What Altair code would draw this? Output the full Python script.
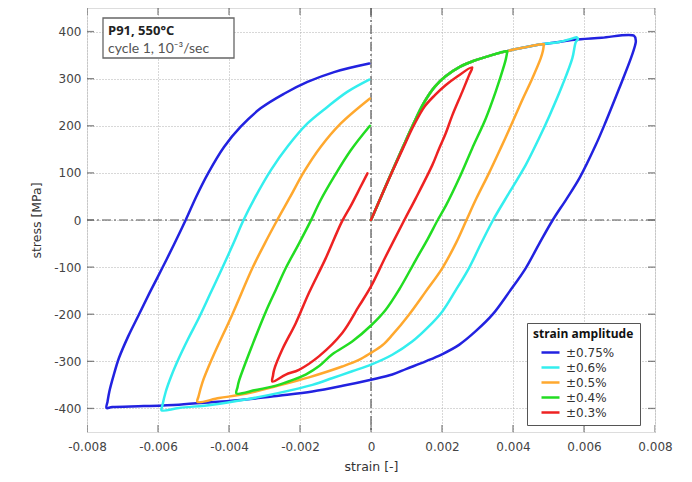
import altair as alt
import pandas as pd

# ---------------- data ----------------
series_names = ["±0.75%", "±0.6%", "±0.5%", "±0.4%", "±0.3%"]
series_colors = ["#2222e0", "#33eeee", "#ffa82e", "#22dd22", "#ee2222"]

# common first-loading branch
load_strain = [0, 0.0003, 0.0006, 0.0009, 0.0012, 0.0015, 0.0018, 0.0021, 0.0025, 0.0029, 0.0034, 0.0038, 0.0043, 0.0048, 0.0053, 0.0058, 0.0065, 0.00741]
load_stress = [0, 52, 104, 155, 205, 250, 283, 305, 325, 338, 350, 358, 366, 373, 378, 383, 387, 391]

blue_strain = [0.00746, 0.00744, 0.00732, 0.00699, 0.00661, 0.00633, 0.00588, 0.00551, 0.00512, 0.00474, 0.00436, 0.0039, 0.00342, 0.00295, 0.00248, 0.002, 0.00154, 0.001, 0.0006, 0,
               -0.0008, -0.00165, -0.0026, -0.00353, -0.0045, -0.00541, -0.0064, -0.00729, -0.00745,
               -0.00742, -0.00737, -0.00725, -0.0071, -0.00684, -0.00654, -0.00622, -0.00588, -0.00555, -0.00522, -0.00492, -0.00459, -0.00414, -0.00367, -0.00311, -0.00245, -0.00179, -0.00104, -0.00005]
blue_stress = [380, 371, 343, 279, 208, 159, 90, 45, 0, -50, -102, -152, -201, -236, -265, -285, -300, -316, -328, -339,
               -352, -364, -373, -381, -387, -392, -395, -397, -399,
               -385, -364, -330, -293, -247, -201, -152, -102, -52, 0, 50, 99, 155, 198, 237, 268, 293, 314, 332]

cyan_strain = [0.00583, 0.00577, 0.00567, 0.00539, 0.00503, 0.00473, 0.00436, 0.00391, 0.00344, 0.0031, 0.00276, 0.00238, 0.00201, 0.0016, 0.00116, 0.0006, 0,
               -0.00053, -0.0011, -0.00165, -0.00259, -0.00353, -0.00447, -0.00541, -0.0059,
               -0.00588, -0.00578, -0.00562, -0.00541, -0.00515, -0.00485, -0.00452, -0.00419, -0.00389, -0.00359, -0.00328, -0.00282, -0.00234, -0.00179, -0.00123, -0.00067, -0.00005]
cyan_stress = [384, 378, 343, 286, 222, 173, 117, 60, 0, -50, -102, -150, -194, -228, -258, -286, -307,
               -321, -336, -350, -367, -381, -392, -399, -404,
               -395, -364, -330, -293, -252, -208, -155, -102, -52, 0, 46, 106, 157, 205, 240, 272, 298]

orange_strain = [0.00487, 0.00484, 0.00478, 0.00454, 0.00428, 0.00394, 0.00365, 0.00332, 0.00297, 0.00269, 0.0024, 0.00201, 0.00154, 0.00107, 0.0006, 0.00032, 0,
                 -0.00034, -0.00081, -0.00175, -0.00268, -0.00353, -0.00428, -0.00489,
                 -0.00486, -0.00475, -0.00447, -0.00391, -0.00334, -0.00298, -0.00264, -0.00227, -0.00189, -0.00142, -0.00085, -0.00003]
orange_stress = [373, 358, 343, 300, 258, 200, 152, 99, 46, 0, -48, -102, -152, -201, -244, -266, -282,
                 -297, -311, -334, -353, -369, -378, -386,
                 -375, -345, -293, -201, -102, -48, 0, 50, 102, 155, 205, 258]

green_strain = [0.00384, 0.0038, 0.00375, 0.00351, 0.00323, 0.00285, 0.00248, 0.00212, 0.00188, 0.0016, 0.00126, 0.00079, 0.00041, 0,
                -0.00053, -0.00109, -0.00146, -0.00184, -0.00222, -0.00265, -0.00325, -0.00379,
                -0.00376, -0.00372, -0.00334, -0.00296, -0.00268, -0.0024, -0.00203, -0.00172, -0.00142, -0.00104, -0.00057, -0.00003]
green_stress = [358, 342, 328, 272, 215, 152, 88, 32, 0, -40, -85, -148, -191, -224,
                -258, -285, -310, -328, -340, -351, -361, -368,
                -355, -342, -265, -194, -148, -102, -50, -5, 42, 92, 148, 200]

red_load_strain = [0, 0.0003, 0.0006, 0.0009, 0.0012, 0.0015, 0.0018, 0.0021, 0.0024, 0.00285]
red_load_stress = [0, 52, 103, 152, 200, 240, 265, 286, 303, 324]
red_strain = [0.00276, 0.00257, 0.00229, 0.0021, 0.00192, 0.00173, 0.00126, 0.00094, 0.00041, 0,
              -0.00034, -0.00081, -0.00146, -0.00203, -0.0024, -0.00278,
              -0.00276, -0.00273, -0.0025, -0.00212, -0.00175, -0.00128, -0.00083, -0.00057, -0.00029, -0.0001]
red_stress = [307, 272, 222, 183, 152, 117, 46, 0, -78, -141,
              -183, -240, -289, -318, -328, -343,
              -330, -318, -275, -219, -155, -82, -5, 30, 71, 99]

y_ticks = [-400, -300, -200, -100, 0, 100, 200, 300, 400]
x_ticks = [-0.008, -0.006, -0.004, -0.002, 0, 0.002, 0.004, 0.006, 0.008]
x_domain = [-0.008, 0.008]
y_domain = [-450, 450]
peak_strain = [0.00741, 0.00579, 0.00487, 0.00384]   # where each loop leaves the common loading branch

# ---------------- build tables ----------------
rows = []
branches = [blue_strain, cyan_strain, orange_strain, green_strain]
branch_stress = [blue_stress, cyan_stress, orange_stress, green_stress]
for name, pk, xs, ys in zip(series_names[:4], peak_strain, branches, branch_stress):
    lx = [a for a in load_strain if a < pk]
    ly = load_stress[:len(lx)]
    if name == "±0.75%":
        lx, ly = lx + [pk], ly + [391]
    elif name == "±0.6%":
        lx, ly = lx + [0.0057, pk], ly + [386, 388]
    elif name == "±0.5%":
        lx, ly = lx + [pk], ly + [373]
    elif name == "±0.4%":
        lx, ly = lx + [pk], ly + [358]
    full_x = lx + xs
    full_y = ly + ys
    for i, (a, b) in enumerate(zip(full_x, full_y)):
        rows.append({"series": name, "strain": a, "stress": b, "idx": i})
for i, (a, b) in enumerate(zip(red_load_strain + red_strain, red_load_stress + red_stress)):
    rows.append({"series": series_names[4], "strain": a, "stress": b, "idx": i})
curves = pd.DataFrame(rows)

yticks_df = pd.DataFrame([{"strain": xe, "stress": v} for v in y_ticks for xe in x_domain])
xticks_df = pd.DataFrame([{"strain": v, "stress": ye} for v in x_ticks for ye in y_domain])

FONT = "DejaVu Sans"
BOLD_FONT = "Open Sans"

xscale = alt.Scale(domain=x_domain, nice=False, zero=False, padding=0)
yscale = alt.Scale(domain=y_domain, nice=False, zero=False, padding=0)

x_axis = alt.Axis(values=x_ticks, grid=True, gridDash=[1, 2], gridColor="#b0b0b0", gridWidth=1,
                  ticks=False, domain=False, labelPadding=9, labelFontSize=12, labelColor="#444",
                  labelFont=FONT, labelFlush=False, labelOverlap=False,
                  labelExpr="datum.value == 0 ? '0' : replace(format(datum.value, '.3f'), '\u2212', '-')",
                  title="strain [-]", titleFont=FONT, titleFontSize=12.5, titleFontWeight="normal",
                  titleColor="#333", titleX=284, titleY=34, titleBaseline="middle")
y_axis = alt.Axis(values=y_ticks, grid=True, gridDash=[1, 2], gridColor="#b0b0b0", gridWidth=1,
                  ticks=False, domain=False, labelPadding=6, labelFontSize=12, labelColor="#444",
                  labelFont=FONT, labelFlush=False,
                  labelExpr="replace(format(datum.value, 'd'), '\u2212', '-')",
                  title="stress [MPa]", titleFont=FONT, titleFontSize=12.5, titleFontWeight="normal",
                  titleColor="#333", titleX=-51, titleY=212, titleBaseline="middle")

zero_df = pd.DataFrame({"v": [0]})
vrule = alt.Chart(zero_df).mark_rule(color="#555", strokeWidth=1.2, strokeDash=[9, 3, 2, 3]).encode(
    x=alt.X("v:Q", scale=xscale))
hrule = alt.Chart(zero_df).mark_rule(color="#555", strokeWidth=1.2, strokeDash=[9, 3, 2, 3]).encode(
    y=alt.Y("v:Q", scale=yscale))

lines = alt.Chart(curves).mark_line(strokeWidth=2.5, strokeJoin="round", strokeCap="round",
                                    interpolate="catmull-rom").encode(
    x=alt.X("strain:Q", scale=xscale, axis=x_axis),
    y=alt.Y("stress:Q", scale=yscale, axis=y_axis),
    color=alt.Color("series:N", scale=alt.Scale(domain=series_names, range=series_colors),
                    sort=series_names,
                    legend=alt.Legend(orient="none", legendX=440, legendY=315, title="strain amplitude",
                                      titleFont=BOLD_FONT, titleFontSize=12, titleFontWeight="bold", titleColor="#111",
                                      titlePadding=5, labelFont=FONT, labelFontSize=12, labelColor="#333",
                                      symbolType="stroke", symbolSize=324, symbolStrokeWidth=2.5,
                                      symbolOffset=7, labelOffset=5, clipHeight=13,
                                      strokeColor="#555", fillColor="white", padding=6, rowPadding=2)),
    order="idx:Q",
)

yticks = alt.Chart(yticks_df).mark_tick(orient="horizontal", size=14, thickness=1.3, color="#555", clip=True).encode(
    x=alt.X("strain:Q", scale=xscale), y=alt.Y("stress:Q", scale=yscale))
xticks = alt.Chart(xticks_df).mark_tick(orient="vertical", size=14, thickness=1.3, color="#555", clip=True).encode(
    x=alt.X("strain:Q", scale=xscale), y=alt.Y("stress:Q", scale=yscale))

box_df = pd.DataFrame({"a": [1]})
box = alt.Chart(box_df).mark_rect(fill="white", stroke="#666", strokeWidth=1.3).encode(
    x=alt.value(16), x2=alt.value(147), y=alt.value(10), y2=alt.value(50))
txt1 = alt.Chart(box_df).mark_text(text="P91, 550°C", font=BOLD_FONT, fontSize=13, fontWeight="bold",
                                   color="#222", align="left", baseline="alphabetic").encode(
    x=alt.value(21), y=alt.value(27))
txt2 = alt.Chart(box_df).mark_text(text="cycle 1, 10\u207b\u00b3/sec", font="Lato", fontSize=14,
                                   color="#555", align="left", baseline="alphabetic").encode(
    x=alt.value(21), y=alt.value(45))

chart = alt.layer(vrule, hrule, lines, yticks, xticks, box, txt1, txt2).properties(
    width=568, height=424,
    autosize=alt.AutoSizeParams(type="none"),
    padding={"left": 79, "top": 0, "right": 20, "bottom": 41},
).configure_view(stroke="#808080", strokeWidth=1.5).configure(background="white")

chart.save("out.html", embed_options={"renderer": "svg", "actions": False})
